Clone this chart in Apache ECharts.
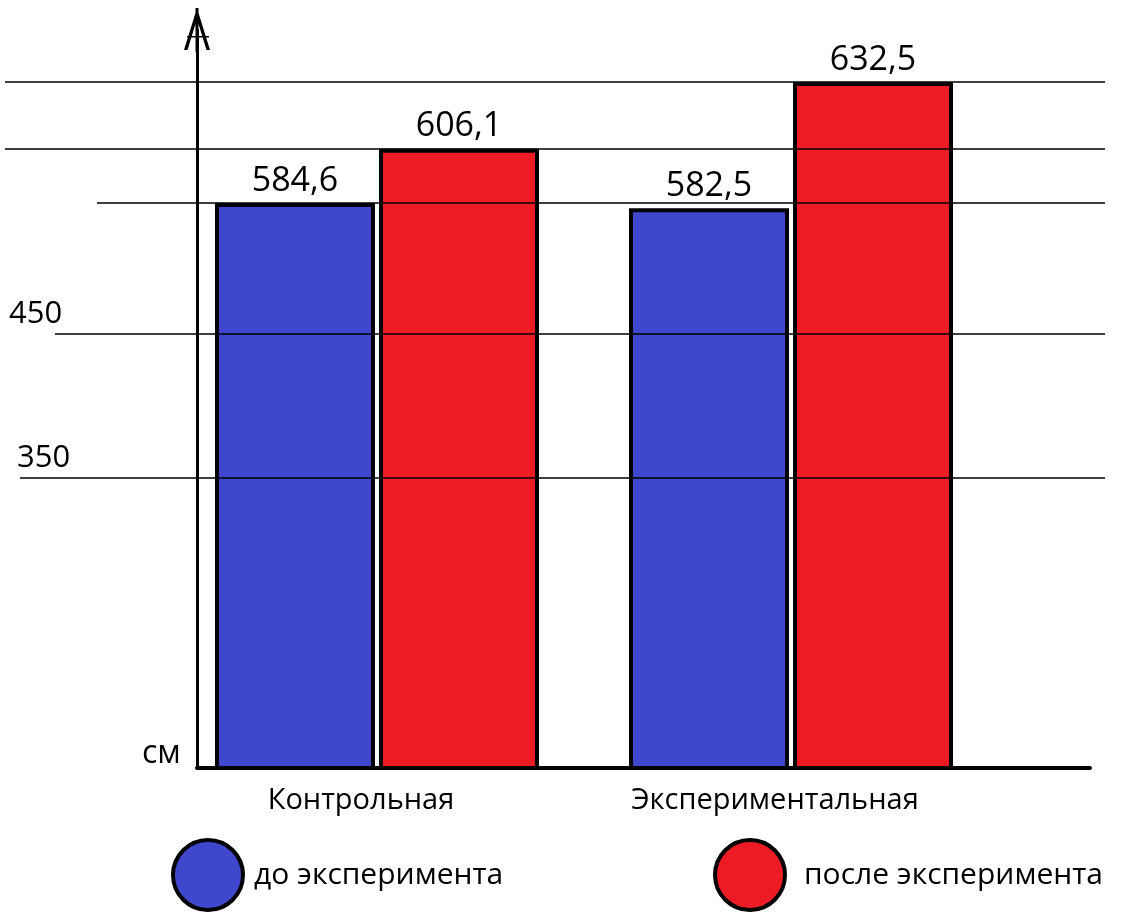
<!DOCTYPE html>
<html>
<head>
<meta charset="utf-8">
<script src="https://cdn.jsdelivr.net/npm/echarts@6/dist/echarts.min.js"></script>
<style>
html, body { margin: 0; background: #fff; }
#chart { width: 1127px; height: 913px; }
</style>
</head>
<body>
<div id="chart"></div>
<script>
// данные
const groups = ['Контрольная', 'Экспериментальная']
const seriesNames = ['до эксперимента', 'после эксперимента']
const before = [584.6, 582.5]
const after = [606.1, 632.5]
// горизонтальные линии (две из них подписаны от руки)
const refLines = [632.5, 606.1, 584.6, 533, 476]
const refLabels = ['', '', '', '450', '350']
const unit = 'см'

const font = '"Open Sans", sans-serif'
const yMin = 361
const yMax = 657
// где начинается каждая линия слева (в единицах скрытой оси x сетки 0)
const lineStartX = [0, 0, 92, 50, 15]
const labelStartX = [0, 0, 0, 0, 8]

const markData = []
refLines.forEach((v, i) => {
  markData.push([{ name: '', coord: [lineStartX[i], v] }, { coord: [1100, v] }])
  if (refLabels[i]) {
    // прозрачный отрезок, который только несёт подпись
    markData.push([
      { name: refLabels[i], coord: [labelStartX[i], v], lineStyle: { color: 'rgba(0,0,0,0)' } },
      { coord: [lineStartX[i] + 1, v] }
    ])
  }
})

// стрелка оси: стержень, «галочка» и тонкая перекладина
const arrowPath = 'path://M11.5,0 L14.5,0 L14.5,44 L11.5,44 Z ' +
  'M0,42 L13,0 L26,42 L22.5,42 L13,11 L3.5,42 Z M3,28 L25,28 L25,29.5 L3,29.5 Z'

const chart = echarts.init(document.getElementById('chart'))
const barBase = {
  type: 'bar',
  xAxisIndex: 1,
  yAxisIndex: 1,
  barWidth: 160,
  barGap: '2.5%',
  z: 2,
  label: {
    show: true,
    position: 'top',
    distance: 5,
    color: '#000',
    fontSize: 34,
    fontFamily: font,
    formatter: p => String(p.value).replace('.', ',')
  }
}

const legendBase = {
  top: 838,
  padding: 0,
  icon: 'circle',
  itemWidth: 70,
  itemHeight: 70,
  itemStyle: { borderColor: '#000', borderWidth: 4 }
}

const option = {
  animation: false,
  backgroundColor: '#fff',
  title: {
    text: unit,
    left: 137,
    top: 733,
    textStyle: { fontSize: 32, fontWeight: 'normal', fontFamily: font, color: '#000' }
  },
  legend: [
    {
      ...legendBase,
      data: [seriesNames[0]],
      left: 171,
      textStyle: { fontSize: 30, fontFamily: font, color: '#000', padding: [0, 0, 0, 6] }
    },
    {
      ...legendBase,
      data: [seriesNames[1]],
      left: 713,
      textStyle: { fontSize: 30, fontFamily: font, color: '#000', padding: [0, 0, 0, 14] }
    }
  ],
  grid: [
    { left: 5, right: 22, top: 20, bottom: 145 },
    { left: 170, right: 129, top: 20, bottom: 145 },
    { left: 197, right: 37, top: 30, bottom: 145 }
  ],
  xAxis: [
    { type: 'value', gridIndex: 0, min: 0, max: 1100, show: false },
    {
      type: 'category',
      gridIndex: 1,
      data: groups,
      axisLine: { show: false },
      axisTick: { show: false },
      axisLabel: { color: '#000', fontSize: 29, fontFamily: font, margin: 18, padding: [0, 32, 0, 0] }
    },
    {
      type: 'category',
      gridIndex: 2,
      data: groups,
      z: 10,
      axisLine: { onZero: false, lineStyle: { color: '#000', width: 4 } },
      axisTick: { show: false },
      axisLabel: { show: false }
    }
  ],
  yAxis: [
    { type: 'value', gridIndex: 0, min: yMin, max: yMax, show: false },
    { type: 'value', gridIndex: 1, min: yMin, max: yMax, show: false },
    {
      type: 'value',
      gridIndex: 2,
      min: 0,
      max: 1,
      z: 10,
      axisLine: {
        show: true,
        symbol: ['none', arrowPath],
        symbolSize: [30, 44],
        lineStyle: { color: '#000', width: 3 }
      },
      axisTick: { show: false },
      axisLabel: { show: false },
      splitLine: { show: false }
    }
  ],
  series: [
    {
      ...barBase,
      name: seriesNames[0],
      data: before,
      itemStyle: { color: '#3f48cc', borderColor: '#000', borderWidth: 4 }
    },
    {
      ...barBase,
      name: seriesNames[1],
      data: after,
      itemStyle: { color: '#ed1c24', borderColor: '#000', borderWidth: 4 }
    },
    {
      type: 'line',
      xAxisIndex: 0,
      yAxisIndex: 0,
      data: [],
      z: 5,
      silent: true,
      markLine: {
        silent: true,
        symbol: ['none', 'none'],
        lineStyle: { color: '#000', width: 1.5, type: 'solid' },
        label: {
          show: true,
          position: 'insideStartTop',
          distance: 4,
          color: '#000',
          fontSize: 31,
          fontFamily: font,
          formatter: p => p.name
        },
        data: markData
      }
    }
  ]
}
chart.setOption(option)
</script>
</body>
</html>
